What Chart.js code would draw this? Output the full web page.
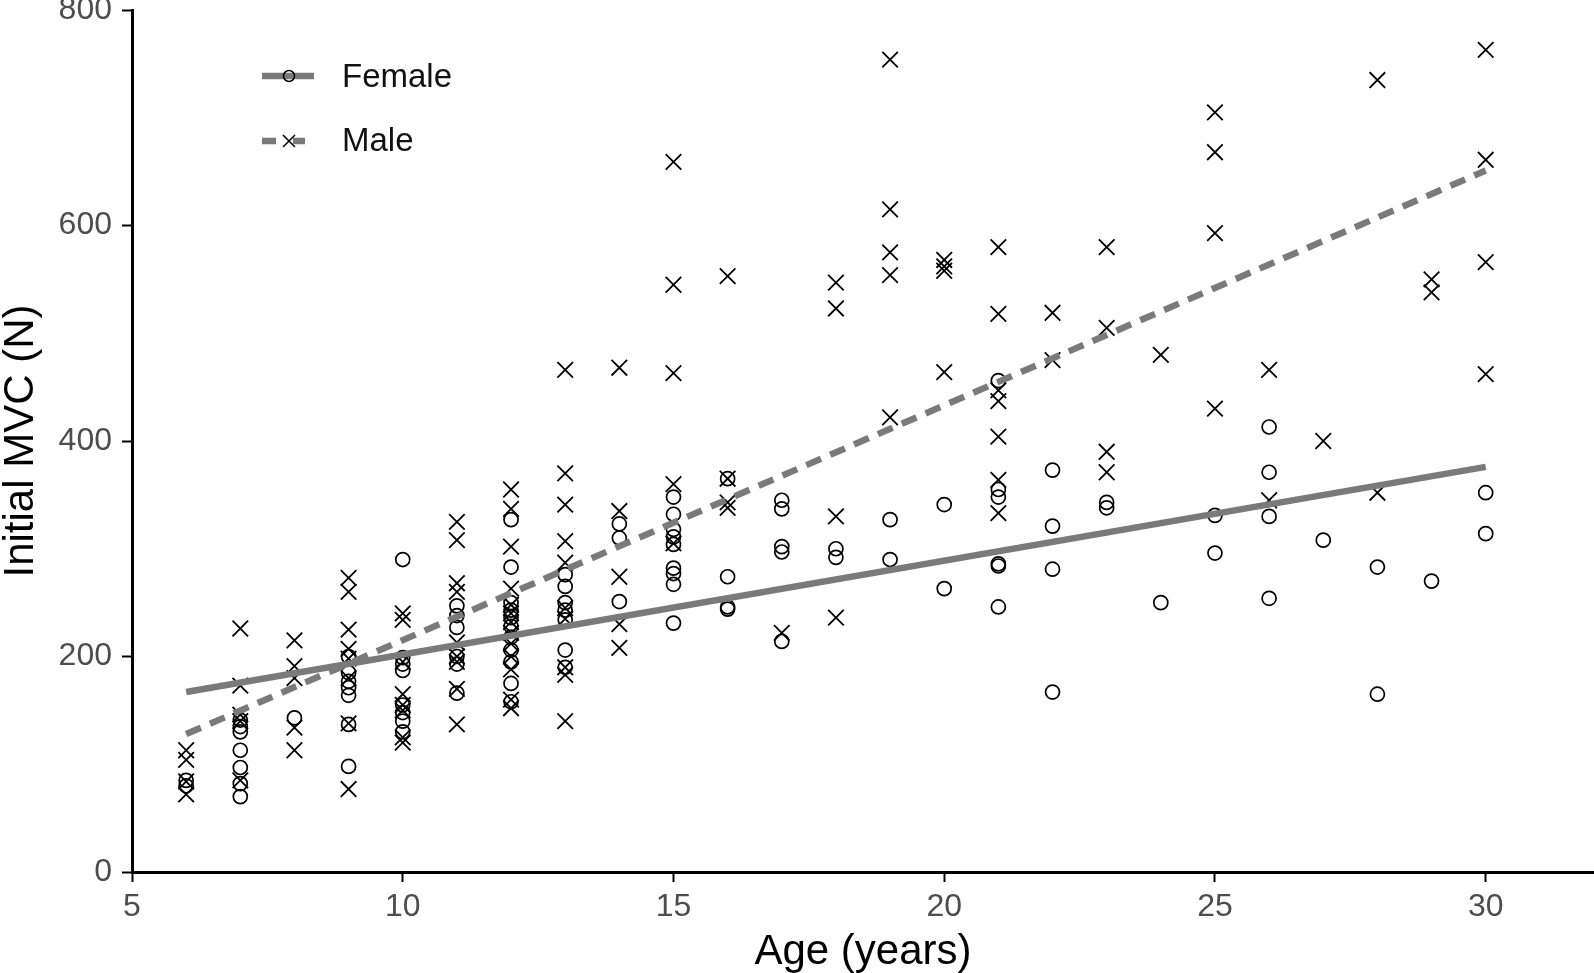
<!DOCTYPE html>
<html>
<head>
<meta charset="utf-8">
<title>Initial MVC by age</title>
<script src="https://cdn.jsdelivr.net/npm/chart.js@4.4.1/dist/chart.umd.min.js"></script>
<style>
  html, body { margin: 0; padding: 0; background: #fff; }
  #wrap { width: 1594px; height: 973px; }
</style>
</head>
<body>
<div id="wrap"><canvas id="chart" width="1594" height="973"></canvas></div>
<script>
// Initial MVC (N) against age, by sex, with a straight-line fit per sex.
// Values, grouped one age per line.

const femaleAge = [
  6, 6,
  7, 7, 7, 7, 7, 7, 7,
  8,
  9, 9, 9, 9, 9, 9, 9,
  10, 10, 10, 10, 10, 10, 10, 10,
  11, 11, 11, 11, 11, 11,
  12, 12, 12, 12, 12, 12, 12, 12, 12, 12, 12,
  13, 13, 13, 13, 13, 13, 13,
  14, 14, 14,
  15, 15, 15, 15, 15, 15, 15, 15, 15,
  16, 16, 16, 16,
  17, 17, 17, 17, 17,
  18, 18,
  19, 19,
  20, 20,
  21, 21, 21, 21, 21, 21,
  22, 22, 22, 22,
  23, 23,
  24,
  25, 25,
  26, 26, 26, 26,
  27,
  28, 28,
  29,
  30, 30,
];
const femaleMvc = [
  85, 80,
  141, 135, 130, 113, 97, 82, 70,
  143,
  200, 185, 177, 171, 164, 137, 98,
  290, 199, 193, 187, 155, 148, 140, 130,
  247, 238, 227, 200, 193, 166,
  327, 283, 250, 243, 236, 228, 218, 206, 195, 175, 158,
  276, 265, 250, 243, 234, 206, 190,
  323, 310, 251,
  348, 332, 318, 311, 304, 282, 277, 267, 231,
  365, 274, 246, 244,
  345, 337, 302, 297, 214,
  300, 292,
  327, 290,
  341, 263,
  456, 355, 348, 286, 284, 246,
  373, 321, 281, 167,
  343, 338,
  250,
  331, 296,
  413, 371, 330, 254,
  308,
  283, 165,
  270,
  352, 314,
];

const maleAge = [
  6, 6, 6, 6,
  7, 7, 7, 7, 7,
  8, 8, 8, 8, 8,
  9, 9, 9, 9, 9, 9, 9, 9,
  10, 10, 10, 10, 10, 10, 10, 10,
  11, 11, 11, 11, 11, 11, 11, 11, 11,
  12, 12, 12, 12, 12, 12, 12, 12, 12, 12, 12, 12, 12,
  13, 13, 13, 13, 13, 13, 13, 13, 13, 13,
  14, 14, 14, 14, 14,
  15, 15, 15, 15, 15,
  16, 16, 16, 16,
  17,
  18, 18, 18, 18,
  19, 19, 19, 19, 19,
  20, 20, 20, 20,
  21, 21, 21, 21, 21, 21, 21,
  22, 22,
  23, 23, 23, 23,
  24,
  25, 25, 25, 25,
  26, 26,
  27,
  28, 28,
  29, 29,
  30, 30, 30, 30,
];
const maleMvc = [
  113, 104, 84, 72,
  226, 173, 146, 140, 85,
  215, 191, 180, 134, 113,
  273, 260, 225, 207, 198, 180, 138, 77,
  240, 234, 195, 165, 155, 150, 125, 120,
  325, 308, 268, 260, 213, 200, 195, 170, 137,
  355, 337, 302, 263, 248, 240, 232, 222, 212, 200, 188, 160, 152,
  466, 370, 341, 307, 287, 245, 235, 190, 183, 140,
  468, 335, 274, 230, 208,
  659, 545, 463, 360, 305,
  553, 365, 343, 338,
  222,
  547, 523, 330, 236,
  754, 615, 575, 554, 422,
  568, 562, 558, 464,
  580, 518, 447, 437, 404, 364, 333,
  519, 475,
  580, 505, 390, 371,
  480,
  705, 668, 593, 430,
  466, 345,
  400,
  735, 352,
  550, 538,
  763, 661, 566, 462,
];

// fitted lines, end points at the youngest and oldest age
const fitAge = [6, 30];
const femaleFit = [167, 376];
const maleFit = [128, 651];

const xTicks = [5, 10, 15, 20, 25, 30];
const yTicks = [0, 200, 400, 600, 800];

const FONT = "'Liberation Sans', Arial, sans-serif";
const LINE_GREY = '#7a7a7a';

const pts = (xs, ys) => xs.map((x, i) => ({ x, y: ys[i] }));

// legend drawn by hand: ggplot-style key with line and marker together
const keyLegend = {
  id: 'keyLegend',
  afterDraw(chart) {
    const { ctx } = chart;
    ctx.save();
    ctx.strokeStyle = LINE_GREY;
    ctx.lineWidth = 6.5;
    ctx.lineCap = 'butt';

    ctx.beginPath();
    ctx.moveTo(262, 76);
    ctx.lineTo(314, 76);
    ctx.stroke();
    ctx.beginPath();
    ctx.moveTo(262, 141);
    ctx.lineTo(276, 141);
    ctx.moveTo(293, 141);
    ctx.lineTo(305, 141);
    ctx.stroke();

    ctx.strokeStyle = '#000';
    ctx.lineWidth = 1.5;
    ctx.beginPath();
    ctx.arc(289, 76, 5.5, 0, Math.PI * 2);
    ctx.stroke();
    ctx.beginPath();
    ctx.moveTo(283, 135); ctx.lineTo(295, 147);
    ctx.moveTo(295, 135); ctx.lineTo(283, 147);
    ctx.stroke();

    ctx.fillStyle = '#111';
    ctx.font = `33px ${FONT}`;
    ctx.textBaseline = 'middle';
    ctx.fillText('Female', 342, 78);
    ctx.fillText('Male', 342, 142);
    ctx.restore();
  },
};

new Chart(document.getElementById('chart'), {
  data: {
    datasets: [
      {
        type: 'line',
        label: 'Female fit',
        data: pts(fitAge, femaleFit),
        borderColor: LINE_GREY,
        borderWidth: 6.5,
        pointRadius: 0,
        order: 0,
      },
      {
        type: 'line',
        label: 'Male fit',
        data: pts(fitAge, maleFit),
        borderColor: LINE_GREY,
        borderWidth: 6.5,
        borderDash: [16, 10],
        pointRadius: 0,
        order: 0,
      },
      {
        type: 'scatter',
        label: 'Female',
        data: pts(femaleAge, femaleMvc),
        pointStyle: 'circle',
        pointRadius: 7,
        borderColor: '#000',
        backgroundColor: 'rgba(0,0,0,0)',
        borderWidth: 1.7,
        order: 1,
      },
      {
        type: 'scatter',
        label: 'Male',
        data: pts(maleAge, maleMvc),
        pointStyle: 'crossRot',
        pointRadius: 11,
        borderColor: '#000',
        borderWidth: 1.8,
        order: 1,
      },
    ],
  },
  options: {
    responsive: false,
    animation: false,
    events: [],
    // no automatic room for the markers: the plot box is fixed by the axes
    layout: { autoPadding: false, padding: { top: 10, right: 0, left: 0, bottom: 0 } },
    plugins: {
      legend: { display: false },
      tooltip: { enabled: false },
    },
    scales: {
      x: {
        type: 'linear',
        min: 5,
        max: 32,
        afterBuildTicks: (s) => { s.ticks = xTicks.map((value) => ({ value })); },
        afterFit: (s) => { s.height = 101; s.paddingLeft = 0; s.paddingRight = 0; },
        grid: { drawOnChartArea: false, tickLength: 10, color: '#000', tickWidth: 2 },
        border: { color: '#000', width: 3 },
        ticks: { color: '#4d4d4d', font: { family: FONT, size: 32 }, padding: 6, maxRotation: 0 },
        title: {
          display: true,
          text: 'Age (years)',
          color: '#000',
          font: { family: FONT, size: 42, lineHeight: 1 },
          padding: { top: 0, bottom: 0 },
        },
      },
      y: {
        type: 'linear',
        min: 0,
        max: 800,
        afterBuildTicks: (s) => { s.ticks = yTicks.map((value) => ({ value })); },
        afterFit: (s) => { s.width = 132; s.paddingTop = 0; s.paddingBottom = 0; },
        grid: { drawOnChartArea: false, tickLength: 10, color: '#000', tickWidth: 2 },
        border: { color: '#000', width: 3 },
        ticks: { color: '#4d4d4d', font: { family: FONT, size: 32 }, padding: 10 },
        title: {
          display: true,
          text: 'Initial MVC (N)',
          color: '#000',
          font: { family: FONT, size: 42, lineHeight: 1 },
          padding: 0,
        },
      },
    },
  },
  plugins: [keyLegend],
});
</script>
</body>
</html>
